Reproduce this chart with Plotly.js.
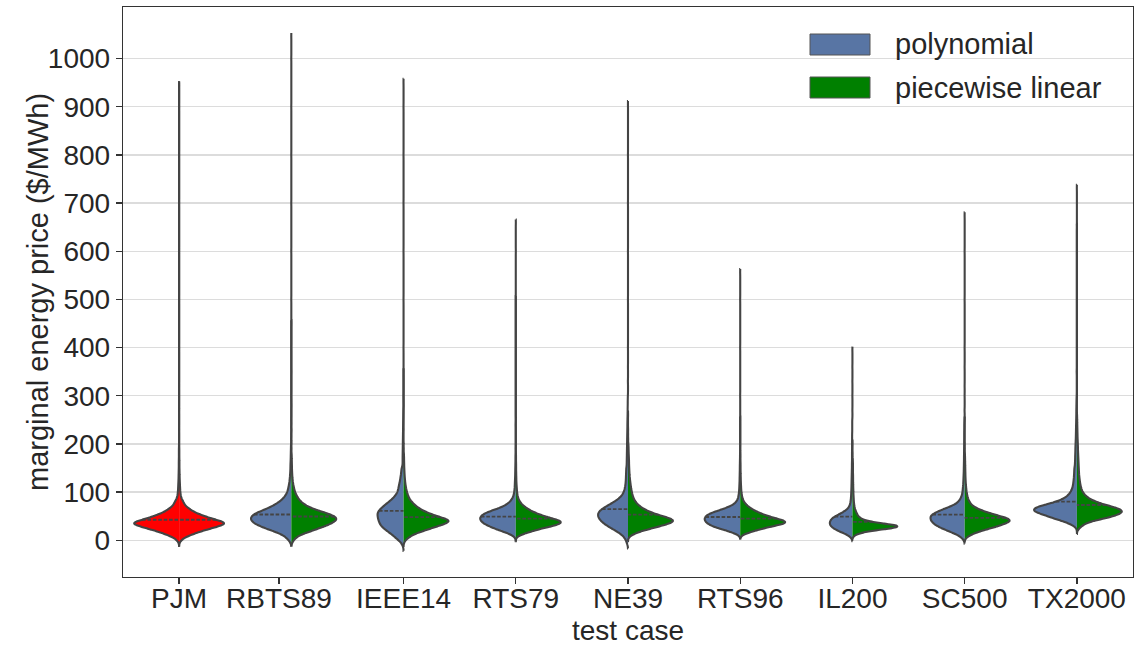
<!DOCTYPE html>
<html><head><meta charset="utf-8">
<script src="https://cdn.plot.ly/plotly-3.0.1.min.js"></script>
<style>html,body{margin:0;padding:0;background:#fff;}#chart{width:1139px;height:647px;}</style>
</head><body><div id="chart"></div>
<script>
// ---- categories and tick labels ----
const categories = ['PJM','RBTS89','IEEE14','RTS79','NE39','RTS96','IL200','SC500','TX2000'];
const categoryPositions = [0,1,2,3,4,5,6,7,8];
const tickPositions = [0,0.89,2,3,4,5,6,7,8];
const seriesNames = ['polynomial','piecewise linear'];
const yTickValues = [0,100,200,300,400,500,600,700,800,900,1000];

// ---- price levels ($/MWh) at which the violin half-widths were read ----
const priceLevels = [-20,-15,-10,-5,0,5,10,15,20,25,30,35,40,45,50,55,60,65,70,75,80,85,90,95,100,105,110,115,120,125,130,135,140,145,150];

// ---- relative density (half-width) read at each price level ----
const pjmBody       = [0,0,0,0.5,2,5,10,16,23,31,39,45,39,31,24,18,13,10,6.7,5,4,2.7,1.8,1.4,1.2,1.0,0.9,0.8,0.7,0.6,0.5,0.45,0.4,0.35,0.3];
const rbts89Poly    = [0,0,0,1,2.7,5,8,13,19.5,26,32,37,39.5,40.7,39.5,36.5,31,25,20,15.5,12,9,7,5.2,4.1,3.4,2.9,2.4,2.0,1.7,1.5,1.3,1.1,1.0,0.9];
const rbts89Pwl     = [0,0,0,1,2.3,4.5,8,14,21,27.5,34,39.5,43.5,45,42.3,36.5,29,22,16.3,12.5,9.5,7.5,6,4.7,3.7,3.0,2.5,2.0,1.6,1.3,1.1,0.9,0.8,0.7,0.6];
const ieee14Poly    = [0,0.3,1.5,3.3,6.5,10,13.5,17.5,21.5,25.5,28.5,30.5,31.5,32.5,33,33.3,32,29.5,26,22.5,18.5,15,12,9.5,7.8,7,6.3,5.8,5,4.4,4,3.5,3.1,2.8,2.5];
const ieee14Pwl     = [0,0,0,0.5,2,4.5,8,13,20,27,34,41,45,40,32,25.5,20,16,12.5,10,7.8,6,4.9,4,3.3,2.7,2.3,1.9,1.6,1.4,1.2,1.0,0.9,0.8,0.7];
const rts79Poly     = [0,0,0,0,0,0.5,3.5,8.5,16,22.5,28,33,35.5,36.7,35.5,32.5,26.5,19.5,13,8.7,6,4,2.8,2,1.6,1.3,1.1,1.0,0.9,0.8,0.7,0.6,0.55,0.5,0.45];
const rts79Pwl      = [0,0,0,0,0,0.3,3.5,9.5,17,25,35,42,42,34,26,20,15,11,8,5.5,3.8,2.6,1.9,1.5,1.2,1.0,0.85,0.7,0.6,0.5,0.45,0.4,0.35,0.3,0.3];
const ne39Poly      = [0,0,0.5,1.5,2.5,4,6.5,10,14.5,19.5,24,28,31,33.5,34.5,34.7,33,30,25.5,20.5,16,11.7,8.5,6.3,5,4.1,3.5,3,2.7,2.5,2.4,2.3,2.2,2.1,2.0];
const ne39Pwl       = [0,0,0,0,0,0.5,3,8,15,24,33,41,46,42,34,26.5,20,15.5,12,9.2,7.5,6,5,4.3,3.8,3.3,2.9,2.6,2.3,2.0,1.8,1.6,1.4,1.3,1.2];
const rts96Poly     = [0,0,0,0,0,0,1.2,6.5,13.5,22,28.5,32.5,34.7,35.3,34,30.5,24,16.5,10.5,6,3.8,2.5,1.9,1.5,1.2,1.0,0.9,0.8,0.7,0.6,0.55,0.5,0.45,0.4,0.4];
const rts96Pwl      = [0,0,0,0,0,0,1.5,6.5,14,22,31.5,42,42,33,25.5,19.5,14.5,10.5,7.5,5,3.4,2.4,1.8,1.4,1.1,0.9,0.8,0.7,0.6,0.5,0.45,0.4,0.35,0.3,0.3];
const il200Poly     = [0,0,0,0,0,1.2,3.8,8.5,14,18,20.5,21.3,20.8,19.3,16,11.5,7.5,4.5,3,2.2,1.8,1.5,1.3,1.2,1.1,1.0,0.9,0.85,0.8,0.75,0.7,0.65,0.6,0.55,0.5];
const il200Pwl      = [0,0,0,0,0,0,1.5,6,15,33,40,22,11,6.5,4.5,3.5,2.7,2,1.6,1.3,1.1,1.0,0.9,0.8,0.7,0.65,0.6,0.55,0.5,0.5,0.45,0.45,0.4,0.4,0.4];
const sc500Poly     = [0,0,0,0,1,3,6.5,12,18,24,29,32.5,34.7,35.5,35.5,32.5,27.5,21.5,15,9.5,6.5,4.7,3.5,2.7,2.3,2,1.8,1.6,1.4,1.3,1.2,1.1,1.0,0.9,0.85];
const sc500Pwl      = [0,0,0,0,0,1.5,5,10,17,25,33,39.5,44.3,42,34,26,18.5,13,8.5,6,4.6,3.5,2.8,2.3,1.9,1.6,1.4,1.2,1.0,0.9,0.8,0.7,0.65,0.6,0.55];
const tx2000Poly    = [0,0,0,0,0,0,0,0,0,0.5,3.5,8,14.5,22.5,29,36,42.5,43,38,29,20.5,14.5,10.5,8,6.3,5.1,4.3,3.8,3.5,3.2,3.0,2.8,2.7,2.6,2.5];
const tx2000Pwl     = [0,0,0,0,0,0,0,0,0.5,2.5,5,8.5,15,26,35,41.5,44,41,33,25,18,13,9.5,7.3,5.6,4.6,3.9,3.4,3.0,2.7,2.4,2.2,2.0,1.9,1.8];

// ---- upper tails: price values above 150 $/MWh and their relative weights ----
const pjmTailV        = [155,160,165,170,175,180,185,190,195,200,230,270,320,400,500,600,700,800,900,944];
const pjmTailW        = [0.3,0.28,0.26,0.24,0.22,0.2,0.18,0.16,0.14,0.12,0.1,0.1,0.1,0.1,0.1,0.1,0.1,0.1,0.1,0.1];
const rbts89PolyTailV = [155,160,165,170,175,180,185,190,195,200,210,220,235,250,300,400,500,600,700,800,900,1000,1046];
const rbts89PolyTailW = [0.85,0.8,0.7,0.6,0.55,0.5,0.45,0.4,0.35,0.3,0.25,0.2,0.15,0.1,0.1,0.1,0.1,0.1,0.1,0.1,0.1,0.1,0.1];
const rbts89PwlTailV  = [155,160,165,170,175,180,190,200,230,280,350,450];
const rbts89PwlTailW  = [0.55,0.5,0.45,0.4,0.35,0.3,0.25,0.2,0.1,0.1,0.1,0.1];
const ieee14PolyTailV = [155,160,165,170,175,180,185,190,195,200,205,210,215,220,225,230,235,240,245,250,255,260,265,270,300,350,400,500,600,700,800,900,951];
const ieee14PolyTailW = [1.3,1.2,1.2,1.2,1.2,1.1,1.1,1.0,1.0,0.9,0.9,0.8,0.8,0.7,0.7,0.6,0.6,0.5,0.5,0.4,0.3,0.25,0.2,0.15,0.1,0.1,0.1,0.1,0.1,0.1,0.1,0.1,0.1];
const ieee14PwlTailV  = [155,160,165,170,175,180,190,200,230,280,350];
const ieee14PwlTailW  = [0.6,0.55,0.5,0.45,0.4,0.35,0.3,0.2,0.1,0.1,0.1];
const rts79PolyTailV  = [155,160,165,170,175,180,190,200,240,300,400,500];
const rts79PolyTailW  = [0.4,0.35,0.3,0.28,0.25,0.2,0.15,0.1,0.1,0.1,0.1,0.1];
const rts79PwlTailV   = [155,160,165,170,175,180,190,200,250,300,400,500,600,659];
const rts79PwlTailW   = [0.28,0.25,0.22,0.2,0.18,0.15,0.12,0.1,0.1,0.1,0.1,0.1,0.1,0.1];
const ne39PolyTailV   = [155,160,165,170,175,180,185,190,195,200,205,210,215,220,225,230,235,240,245,250,255,260,265,270,275,280,285,290,295,300,330,360,400,500,600,700,800,905];
const ne39PolyTailW   = [1.5,1.45,1.4,1.35,1.3,1.25,1.2,1.15,1.1,1.05,1.0,0.95,0.9,0.85,0.8,0.75,0.7,0.65,0.6,0.55,0.5,0.45,0.42,0.39,0.36,0.33,0.3,0.27,0.24,0.2,0.15,0.1,0.1,0.1,0.1,0.1,0.1,0.1];
const ne39PwlTailV    = [155,160,165,170,175,180,185,190,195,200,210,220,230,260];
const ne39PwlTailW    = [1.1,1.0,0.95,0.9,0.8,0.7,0.6,0.55,0.5,0.4,0.3,0.2,0.15,0.1];
const rts96PolyTailV  = [155,160,165,170,175,180,190,200,250,300,400,500,556];
const rts96PolyTailW  = [0.35,0.3,0.27,0.24,0.2,0.18,0.14,0.1,0.1,0.1,0.1,0.1,0.1];
const rts96PwlTailV   = [155,160,165,170,175,180,200,250];
const rts96PwlTailW   = [0.28,0.25,0.22,0.2,0.17,0.15,0.1,0.1];
const il200PolyTailV  = [155,160,165,170,175,180,185,190,195,200,205,210,215,220,225,230,235,240,245,250,270,300,330,360,395];
const il200PolyTailW  = [0.48,0.46,0.44,0.42,0.4,0.38,0.36,0.34,0.32,0.3,0.28,0.27,0.26,0.25,0.24,0.23,0.22,0.21,0.2,0.2,0.1,0.1,0.1,0.1,0.1];
const il200PwlTailV   = [155,160,165,170,180,200];
const il200PwlTailW   = [0.38,0.35,0.3,0.25,0.2,0.1];
const sc500PolyTailV  = [155,160,165,170,175,180,185,190,195,200,205,210,215,220,225,230,235,240,245,250,270,300,320,360,400,500,600,674];
const sc500PolyTailW  = [0.8,0.75,0.7,0.68,0.65,0.62,0.6,0.57,0.54,0.5,0.47,0.44,0.41,0.38,0.35,0.32,0.3,0.27,0.24,0.2,0.15,0.1,0.1,0.1,0.1,0.1,0.1,0.1];
const sc500PwlTailV   = [155,160,165,170,175,180,190,200,250];
const sc500PwlTailW   = [0.5,0.45,0.4,0.35,0.3,0.27,0.22,0.15,0.1];
const tx2000PolyTailV = [155,160,165,170,175,180,185,190,195,200,205,210,215,220,225,230,235,240,245,250,255,260,265,270,275,280,285,290,295,300,350,400,500,600,731];
const tx2000PolyTailW = [2.0,1.9,1.8,1.7,1.65,1.6,1.5,1.45,1.4,1.3,1.2,1.1,1.0,0.95,0.9,0.85,0.8,0.75,0.7,0.65,0.6,0.55,0.5,0.45,0.4,0.35,0.3,0.27,0.24,0.2,0.15,0.1,0.1,0.1,0.1];
const tx2000PwlTailV  = [155,160,165,170,175,180,185,190,195,200,205,210,215,220,225,230,235,240,245,250,255,260,300,400,500,600,650];
const tx2000PwlTailW  = [1.7,1.6,1.5,1.4,1.3,1.2,1.1,1.0,0.95,0.9,0.8,0.7,0.6,0.55,0.5,0.45,0.4,0.35,0.3,0.25,0.2,0.18,0.1,0.1,0.1,0.1,0.1];

// ---- which series goes where ----
const halves = [
  {cat:0, series:'PJM', side:'negative', body:pjmBody, tv:pjmTailV, tw:pjmTailW, color:'#FF0000'},
  {cat:0, series:'PJM', side:'positive', body:pjmBody, tv:pjmTailV, tw:pjmTailW, color:'#FF0000'},
  {cat:1, series:seriesNames[0], side:'negative', body:rbts89Poly, tv:rbts89PolyTailV, tw:rbts89PolyTailW},
  {cat:1, series:seriesNames[1], side:'positive', body:rbts89Pwl,  tv:rbts89PwlTailV,  tw:rbts89PwlTailW},
  {cat:2, series:seriesNames[0], side:'negative', body:ieee14Poly, tv:ieee14PolyTailV, tw:ieee14PolyTailW},
  {cat:2, series:seriesNames[1], side:'positive', body:ieee14Pwl,  tv:ieee14PwlTailV,  tw:ieee14PwlTailW},
  {cat:3, series:seriesNames[0], side:'negative', body:rts79Poly,  tv:rts79PolyTailV,  tw:rts79PolyTailW},
  {cat:3, series:seriesNames[1], side:'positive', body:rts79Pwl,   tv:rts79PwlTailV,   tw:rts79PwlTailW},
  {cat:4, series:seriesNames[0], side:'negative', body:ne39Poly,   tv:ne39PolyTailV,   tw:ne39PolyTailW},
  {cat:4, series:seriesNames[1], side:'positive', body:ne39Pwl,    tv:ne39PwlTailV,    tw:ne39PwlTailW},
  {cat:5, series:seriesNames[0], side:'negative', body:rts96Poly,  tv:rts96PolyTailV,  tw:rts96PolyTailW},
  {cat:5, series:seriesNames[1], side:'positive', body:rts96Pwl,   tv:rts96PwlTailV,   tw:rts96PwlTailW},
  {cat:6, series:seriesNames[0], side:'negative', body:il200Poly,  tv:il200PolyTailV,  tw:il200PolyTailW},
  {cat:6, series:seriesNames[1], side:'positive', body:il200Pwl,   tv:il200PwlTailV,   tw:il200PwlTailW},
  {cat:7, series:seriesNames[0], side:'negative', body:sc500Poly,  tv:sc500PolyTailV,  tw:sc500PolyTailW},
  {cat:7, series:seriesNames[1], side:'positive', body:sc500Pwl,   tv:sc500PwlTailV,   tw:sc500PwlTailW},
  {cat:8, series:seriesNames[0], side:'negative', body:tx2000Poly, tv:tx2000PolyTailV, tw:tx2000PolyTailW},
  {cat:8, series:seriesNames[1], side:'positive', body:tx2000Pwl,  tv:tx2000PwlTailV,  tw:tx2000PwlTailW}
];

const seriesColors = {'polynomial':'#5875A4', 'piecewise linear':'#008000'};
const outline = '#444444';
const FONT = 'Liberation Sans, Arial, Helvetica, sans-serif';
const TEXT = '#262626';

// unpack a read density profile (levels + weights) into samples for the KDE
function unpack(levels, weights, tailV, tailW) {
  const out = [];
  levels.forEach((v, i) => { const n = Math.round(weights[i] * 10); for (let k = 0; k < n; k++) out.push(v); });
  tailV.forEach((v, i) => { const n = Math.max(1, Math.round(tailW[i] * 10)); for (let k = 0; k < n; k++) out.push(v); });
  return out;
}

const traces = halves.map(h => ({
  type: 'violin',
  x0: categoryPositions[h.cat],
  y: unpack(priceLevels, h.body, h.tv, h.tw),
  name: h.series,
  side: h.side,
  scalegroup: categories[h.cat],
  scalemode: 'width',
  bandwidth: 3.5,
  spanmode: 'soft',
  points: false,
  box: {visible: false},
  meanline: {visible: true, color: outline, width: 1.8},
  fillcolor: h.color || seriesColors[h.series],
  line: {color: outline, width: 2.1},
  opacity: 1,
  showlegend: false,
  hoverinfo: 'skip'
}));

// legend built from the series names/colours
const px2x = p => (p - 123) / 1010;
const px2y = p => (577 - p) / 570;
const legendShapes = seriesNames.map((s, i) => ({
  type: 'rect', xref: 'paper', yref: 'paper',
  x0: px2x(810), x1: px2x(870), y0: px2y(55 + 43 * i), y1: px2y(34 + 43 * i),
  fillcolor: seriesColors[s], line: {color: '#555', width: 1}
}));
const annotations = seriesNames.map((s, i) => ({
  xref: 'paper', yref: 'paper', x: px2x(893), y: px2y(44.5 + 43 * i),
  xanchor: 'left', yanchor: 'middle', showarrow: false, text: s,
  font: {family: FONT, size: 29, color: TEXT}
}));
// axis titles
annotations.push({
  xref: 'paper', yref: 'paper', x: px2x(38), y: 0.5, textangle: -90,
  xanchor: 'center', yanchor: 'middle', showarrow: false,
  text: 'marginal energy price ($/MWh)',
  font: {family: FONT, size: 29, color: TEXT}
});
annotations.push({
  xref: 'paper', yref: 'paper', x: 0.5, y: px2y(630.5),
  xanchor: 'center', yanchor: 'middle', showarrow: false, borderpad: 0,
  text: 'test case',
  font: {family: FONT, size: 28, color: TEXT}
});

const layout = {
  width: 1139, height: 647,
  margin: {l: 123, r: 6, t: 7, b: 70, pad: 0},
  paper_bgcolor: '#ffffff', plot_bgcolor: '#ffffff',
  violinmode: 'overlay', violingap: 0.2, violingroupgap: 0,
  showlegend: false,
  xaxis: {
    type: 'linear', range: [-0.5, 8.5], autorange: false,
    tickmode: 'array', tickvals: tickPositions, ticktext: categories,
    ticks: 'outside', ticklen: 6, tickwidth: 1.25, tickcolor: '#333',
    ticklabelstandoff: -10,
    showline: true, linecolor: '#333', linewidth: 1.25, mirror: true,
    showgrid: false, zeroline: false,
    tickfont: {family: FONT, size: 28, color: TEXT}
  },
  yaxis: {
    range: [-76.3, 1107], autorange: false,
    tickmode: 'array', tickvals: yTickValues,
    ticks: 'outside', ticklen: 6, tickwidth: 1.25, tickcolor: '#333',
    showline: true, linecolor: '#333', linewidth: 1.25, mirror: true,
    showgrid: true, gridcolor: '#dcdcdc', gridwidth: 1.3, zeroline: false,
    tickfont: {family: FONT, size: 28, color: TEXT}
  },
  shapes: legendShapes,
  annotations: annotations
};

Plotly.newPlot('chart', traces, layout, {displayModeBar: false, staticPlot: true});
</script>
</body></html>
